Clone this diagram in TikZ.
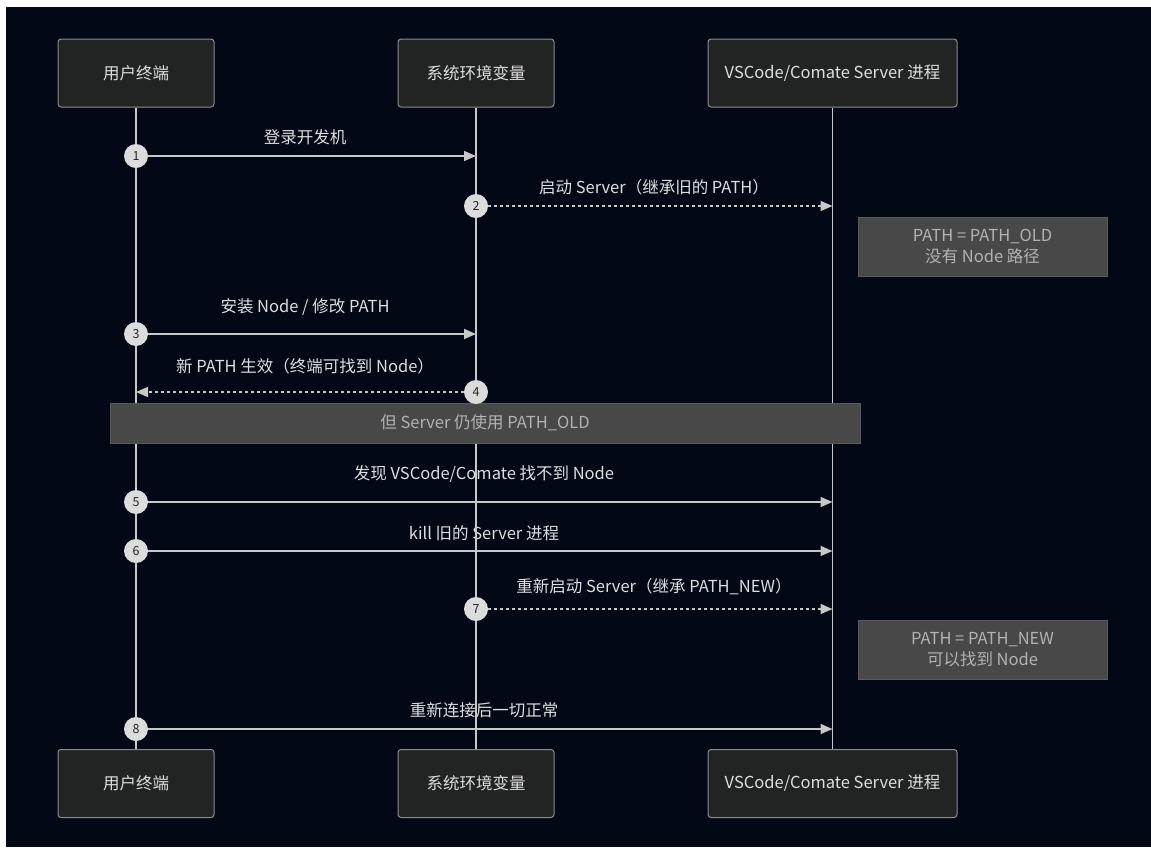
\documentclass[tikz,border=0pt]{standalone}
\usepackage{fontspec}
\setmainfont{Noto Sans CJK SC}
\usetikzlibrary{arrows.meta}
\definecolor{bg}{RGB}{3,8,22}
\definecolor{actorfill}{RGB}{34,35,35}
\definecolor{actorline}{RGB}{140,140,140}
\definecolor{linec}{RGB}{200,200,200}
\definecolor{txt}{RGB}{222,222,222}
\definecolor{notefill}{RGB}{72,72,72}
\definecolor{noteline}{RGB}{90,90,90}
\definecolor{notetxt}{RGB}{178,178,178}
\definecolor{circfill}{RGB}{220,220,220}
\tikzset{
  actor/.style={draw=actorline, line width=1pt, fill=actorfill, rounded corners=3pt,
    minimum height=68pt, text=txt, font=\fontsize{16.5}{20}\selectfont},
  lifeline/.style={draw=linec, line width=1.5pt},
  msg/.style={draw=linec, line width=1.5pt, -{Triangle[length=12pt,width=10pt]}},
  msgdash/.style={msg, dash pattern=on 3pt off 3pt},
  mlabel/.style={text=txt, font=\fontsize{16.5}{20}\selectfont, inner sep=0pt},
  note/.style={draw=noteline, line width=1pt, fill=notefill, text=notetxt,
    font=\fontsize{16.5}{21}\selectfont, align=center, inner sep=0pt},
  num/.style={circle, fill=circfill, minimum size=24pt, inner sep=0pt,
    text=black!85, font=\fontsize{12.5}{12.5}\selectfont}
}
\begin{document}
\begin{tikzpicture}[x=1pt,y=-1pt]
\useasboundingbox (0,0) rectangle (1151,847);
\fill[white] (0,0) rectangle (1151,847);
\fill[bg] (6,7) rectangle (1151,847);

% message labels (drawn below lifelines)
\node[mlabel] (l1) at (305,137) {登录开发机};
\node[mlabel] (l2) at (654,187) {启动 Server（继承旧的 PATH）};
\node[mlabel] (l3) at (305,307) {安装 Node / 修改 PATH};
\node[mlabel] (l4) at (305,366) {新 PATH 生效（终端可找到 Node）};
\node[mlabel] (l5) at (484,474) {发现 VSCode/Comate 找不到 Node};
\node[mlabel] (l6) at (484,533) {kill 旧的 Server 进程};
\node[mlabel] (l7) at (654,587) {重新启动 Server（继承 PATH\_NEW）};
\node[mlabel] (l8) at (484,710) {重新连接后一切正常};

% actors
\node[actor, minimum width=156pt] (t1) at (136,73) {用户终端};
\node[actor, minimum width=156pt] (t2) at (476,73) {系统环境变量};
\node[actor, minimum width=249pt] (t3) at (832.5,73) {VSCode/Comate Server 进程};
\node[actor, minimum width=156pt] (b1) at (136,783.5) {用户终端};
\node[actor, minimum width=156pt] (b2) at (476,783.5) {系统环境变量};
\node[actor, minimum width=249pt] (b3) at (832.5,783.5) {VSCode/Comate Server 进程};

% lifelines
\draw[lifeline] (t1.south) -- (b1.north);
\draw[lifeline] (t2.south) -- (b2.north);
\draw[lifeline] (t3.south) -- (b3.north);

% notes
\node[note, minimum width=249pt, minimum height=59pt] (n1) at (982.5,246.5) {PATH = PATH\_OLD\\没有 Node 路径};
\node[note, minimum width=750pt, minimum height=40pt] (n2) at (485,423) {但 Server 仍使用 PATH\_OLD};
\node[note, minimum width=249pt, minimum height=59pt] (n3) at (982.5,649.5) {PATH = PATH\_NEW\\可以找到 Node};

% message endpoints
\coordinate (e1) at (476,156);
\coordinate (e2) at (832.5,206);
\coordinate (e3) at (476,334);
\coordinate (e4) at (136,392);
\coordinate (e5) at (832.5,502);
\coordinate (e6) at (832.5,551);
\coordinate (e7) at (832.5,609);
\coordinate (e8) at (832.5,729);

% numbered circles
\node[num] (c1) at (136,156) {1};
\node[num] (c2) at (476,206) {2};
\node[num] (c3) at (136,334) {3};
\node[num] (c4) at (476,392) {4};
\node[num] (c5) at (136,502) {5};
\node[num] (c6) at (136,551) {6};
\node[num] (c7) at (476,609) {7};
\node[num] (c8) at (136,729) {8};

% messages
\draw[msg] (c1.east) -- (e1);
\draw[msgdash] (c2.east) -- (e2);
\draw[msg] (c3.east) -- (e3);
\draw[msgdash] (c4.west) -- (e4);
\draw[msg] (c5.east) -- (e5);
\draw[msg] (c6.east) -- (e6);
\draw[msgdash] (c7.east) -- (e7);
\draw[msg] (c8.east) -- (e8);
\end{tikzpicture}
\end{document}
